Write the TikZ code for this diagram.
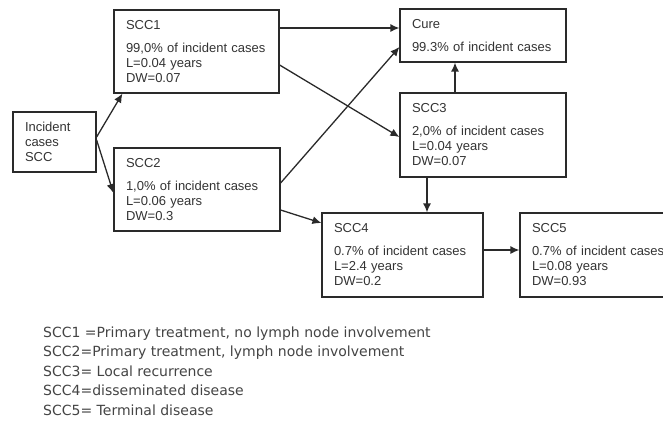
\documentclass[tikz,border=0pt]{standalone}
\usepackage{fontspec}
\setmainfont{Liberation Sans}
\newfontfamily\legfont{DejaVu Sans}
\usetikzlibrary{arrows.meta}
\definecolor{ink}{HTML}{2A2A2A}
\definecolor{txt}{HTML}{333333}
\definecolor{legc}{HTML}{444444}
\begin{document}
\begin{tikzpicture}[x=1pt,y=-1pt,
  box/.style={draw=ink,line width=1.2pt,rectangle,inner xsep=12pt,inner ysep=0pt,
    align=left,text=txt,font=\fontsize{13}{15}\selectfont},
  arr/.style={draw=ink,line width=1.3pt,-{Latex[length=9pt,width=8pt]}},
  leg/.style={anchor=base west,inner sep=0pt,text=legc,font=\legfont\fontsize{14}{19}\selectfont}]
\useasboundingbox (0,0) rectangle (663,421);
\clip (0,0) rectangle (663,421);
\node[box,text width=59pt,minimum width=83pt,minimum height=60pt] (inc) at (54.5,142)
  {Incident\\cases\\SCC};
\node[box,text width=141pt,minimum width=165pt,minimum height=83pt] (scc1) at (196.5,51.5)
  {SCC1\\[8pt]99,0\% of incident cases\\L=0.04 years\\DW=0.07};
\node[box,text width=142pt,minimum width=166pt,minimum height=83pt] (scc2) at (197,189.5)
  {SCC2\\[8pt]1,0\% of incident cases\\L=0.06 years\\DW=0.3};
\node[box,text width=142pt,minimum width=166pt,minimum height=53pt] (cure) at (483,35.5)
  {Cure\\[8pt]99.3\% of incident cases};
\node[box,text width=142pt,minimum width=166pt,minimum height=84pt] (scc3) at (483,135)
  {SCC3\\[8pt]2,0\% of incident cases\\L=0.04 years\\DW=0.07};
\node[box,text width=137pt,minimum width=161pt,minimum height=84pt] (scc4) at (402.5,255)
  {SCC4\\[8pt]0.7\% of incident cases\\L=2.4 years\\DW=0.2};
\node[box,text width=146pt,minimum width=170pt,minimum height=84pt] (scc5) at (605,255)
  {SCC5\\[8pt]0.7\% of incident cases\\L=0.08 years\\DW=0.93};
\draw[arr] ([yshift=5pt]inc.east) -- ([xshift=9pt]scc1.south west);
\draw[arr] ([yshift=2pt]inc.east) -- ([yshift=-3.5pt]scc2.west);
\draw[arr] ([yshift=23.5pt]scc1.east) -- ([yshift=7.5pt]cure.west);
\draw[arr] ([yshift=-13.5pt]scc1.east) -- ([yshift=-2pt]scc3.west);
\draw[arr] ([yshift=6.5pt]scc2.east) -- ([yshift=-11.5pt]cure.west);
\draw[arr] ([yshift=-20.5pt]scc2.east) -- ([yshift=32pt]scc4.west);
\draw[arr] ([xshift=-28pt]scc3.north) -- ([xshift=-28pt]cure.south);
\draw[arr] ([xshift=-56pt]scc3.south) -- ([xshift=24.5pt]scc4.north);
\draw[arr] ([yshift=5pt]scc4.east) -- ([yshift=5pt]scc5.west);
\node[leg] (leg1) at (43,337) {SCC1 =Primary treatment, no lymph node involvement};
\node[leg] (leg2) at (43,356.5) {SCC2=Primary treatment, lymph node involvement};
\node[leg] (leg3) at (43,376) {SCC3= Local recurrence};
\node[leg] (leg4) at (43,395.5) {SCC4=disseminated disease};
\node[leg] (leg5) at (43,415) {SCC5= Terminal disease};
\end{tikzpicture}
\end{document}
